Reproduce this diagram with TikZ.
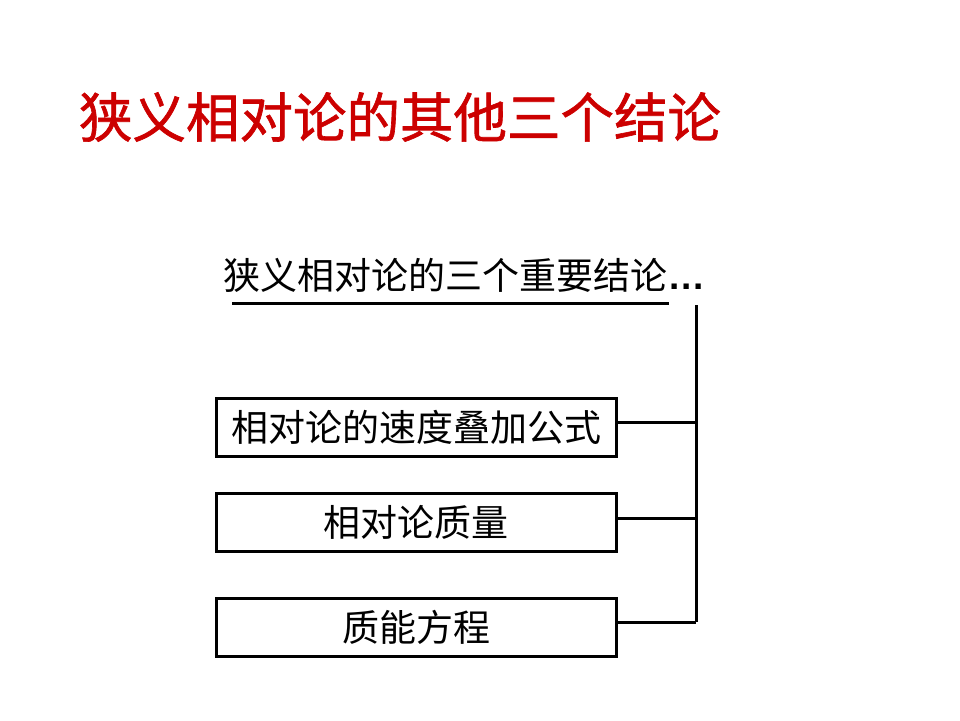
\documentclass[tikz,border=0pt]{standalone}
\usepackage{fontspec}
\newfontfamily\cjk{Noto Sans CJK SC}
\newfontfamily\cjktitle[FakeBold=1.2]{Noto Sans CJK SC}
\newfontfamily\latinsans{Liberation Sans}
\definecolor{titlered}{RGB}{204,0,0}
\begin{document}
\begin{tikzpicture}[x=1pt,y=-1pt,
  txt/.style={inner sep=0pt,font=\cjk\fontsize{37}{40}\selectfont},
  itembox/.style={draw,line width=3pt,minimum width=400pt,minimum height=58pt,inner sep=0pt,font=\cjk\fontsize{37}{40}\selectfont},
  conn/.style={line width=3pt}]
\useasboundingbox (0,0) rectangle (960,720);
\node[inner sep=0pt,text=titlered,font=\cjktitle\fontsize{53.5}{58}\selectfont] (title) at (400,117) {狭义相对论的其他三个结论};
\node[txt] (sub) at (463.5,275) {狭义相对论的三个重要结论{\latinsans\bfseries\hspace{2pt}.\hspace{1.5pt}.\hspace{1.5pt}.}};
\coordinate (ul1) at (232,303);
\coordinate (ul2) at (669,303);
\draw[conn] (ul1) -- (ul2);
\node[itembox] (b1) at (416,427) {相对论的速度叠加公式};
\node[itembox] (b2) at (416,522.5) {相对论质量};
\node[itembox] (b3) at (416,627) {质能方程};
\coordinate (vtop) at (696,305);
\coordinate (j1) at (696,422);
\coordinate (j2) at (696,518);
\coordinate (j3) at (696,622);
\draw[conn] (vtop) -- (j3);
\draw[conn] (b1.east |- j1) -- (j1);
\draw[conn] (b2.east |- j2) -- (j2);
\draw[conn] (b3.east |- j3) -- (j3);
\end{tikzpicture}
\end{document}
